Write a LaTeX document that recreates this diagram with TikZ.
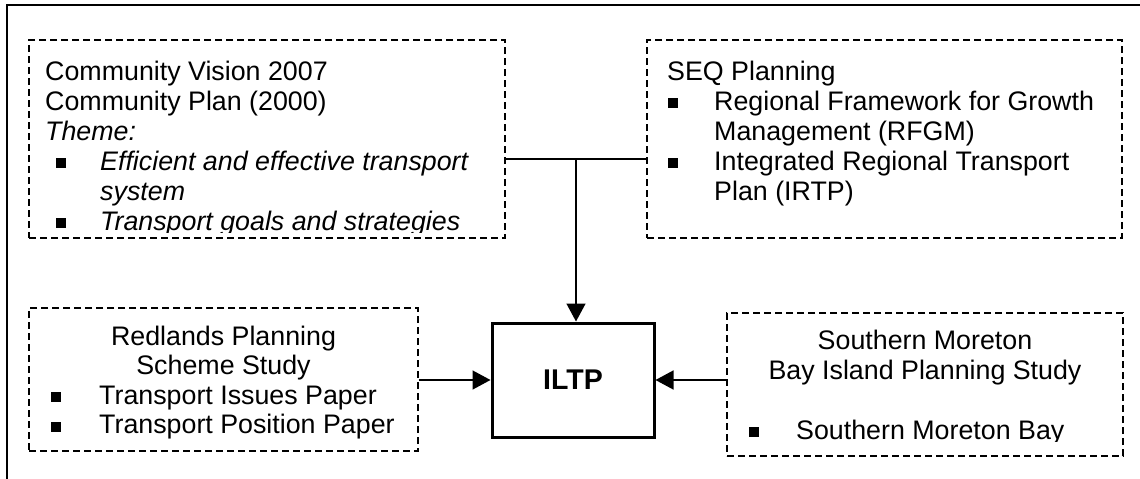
\documentclass[tikz,border=0pt]{standalone}
\usepackage{fontspec}
\setmainfont{Liberation Sans}
\usetikzlibrary{arrows.meta,fit}

\tikzset{
  srcbox/.style={draw, line width=1.4pt, dash pattern=on 7pt off 4pt, inner sep=0pt},
  txt/.style={anchor=base west, inner sep=0pt},
  ctxt/.style={anchor=base, inner sep=0pt},
  bul/.style={fill=black, draw=none, minimum size=10pt, inner sep=0pt, anchor=south west},
  link/.style={line width=1.5pt},
  arrow/.style={link, -{Triangle[length=18pt,width=19pt]}},
  mainbox/.style={draw, line width=3pt, minimum width=162pt, minimum height=114pt,
                  inner sep=0pt, font=\fontsize{28.5}{32}\selectfont\bfseries},
  frame/.style={line width=2pt},
}

\begin{document}
\begin{tikzpicture}[x=1pt, y=-1pt, font=\fontsize{26.8}{30}\selectfont]
\useasboundingbox (0,0) rectangle (1140,479);

% page frame (top and left rules)
\draw[frame] (7,479) -- (7,5) -- (1140,5);

% dashed source boxes
\node[srcbox, fit={(29,40)(505,238)}] (vision) {};
\node[srcbox, fit={(647,40)(1122,238)}] (seq) {};
\node[srcbox, fit={(29,308)(418,451)}] (redlands) {};
\node[srcbox, fit={(727,313)(1123,456)}] (smbi) {};

% central plan
\node[mainbox] (iltp) at (573,380) {ILTP};

% Community Vision box text (the text frame ends a little above the border)
\begin{scope}
\clip (vision.north west) rectangle ([yshift=6.5pt]vision.south east);
\node[txt] (v1) at (45,80) {Community Vision 2007};
\node[txt] (v2) at (45,110) {Community Plan (2000)};
\node[txt] (v3) at (45,140) {\itshape Theme:};
\node[bul] (vb1) at (56,168.5) {};
\node[txt] (v4) at (100,170) {\itshape Efficient and effective transport};
\node[txt] (v5) at (100,200) {\itshape system};
\node[bul] (vb2) at (56,228.5) {};
\node[txt] (v6) at (100,230) {\itshape Transport goals and strategies};
\end{scope}

% SEQ Planning box text
\begin{scope}
\clip (seq.north west) rectangle ([yshift=6.5pt]seq.south east);
\node[txt] (s1) at (667,80) {SEQ Planning};
\node[bul] (sb1) at (668,108.5) {};
\node[txt] (s2) at (714,110) {Regional Framework for Growth};
\node[txt] (s3) at (714,140) {Management (RFGM)};
\node[bul] (sb2) at (668,168.5) {};
\node[txt] (s4) at (714,170) {Integrated Regional Transport};
\node[txt] (s5) at (714,200) {Plan (IRTP)};
\end{scope}

% Redlands box text
\begin{scope}
\clip (redlands.north west) rectangle ([yshift=6.5pt]redlands.south east);
\node[ctxt] (r1) at (223.5,345) {Redlands Planning};
\node[ctxt] (r2) at (223.5,374.5) {Scheme Study};
\node[bul] (rb1) at (51,402.5) {};
\node[txt] (r3) at (99,404) {Transport Issues Paper};
\node[bul] (rb2) at (51,432) {};
\node[txt] (r4) at (99,433.5) {Transport Position Paper};
\end{scope}

% Southern Moreton Bay Island box text
\begin{scope}
\clip (smbi.north west) rectangle ([yshift=15pt]smbi.south east);
\node[ctxt] (m1) at (925,349) {Southern Moreton};
\node[ctxt] (m2) at (925,379) {Bay Island Planning Study};
\node[bul] (mb1) at (749,437.5) {};
\node[txt] (m3) at (796,439) {Southern Moreton Bay};
\end{scope}

% connectors
\coordinate (junction) at (576,159);
\draw[link] (vision.east |- junction) -- (seq.west |- junction);
\draw[arrow] (junction) -- (junction |- iltp.north);
\draw[arrow] (redlands.east |- iltp.west) -- (iltp.west);
\draw[arrow] (smbi.west |- iltp.east) -- (iltp.east);
\end{tikzpicture}
\end{document}
